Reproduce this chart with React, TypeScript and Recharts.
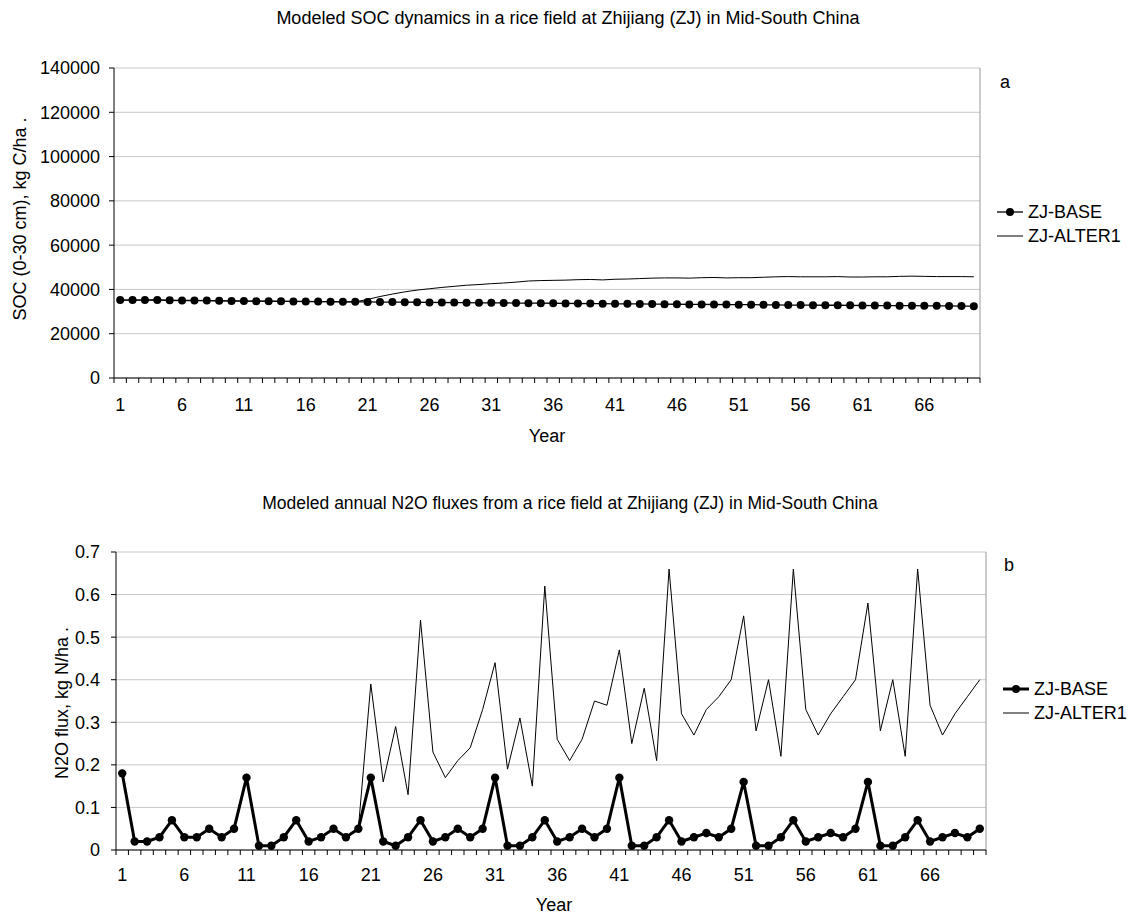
import {
  LineChart, Line, XAxis, YAxis, CartesianGrid, ReferenceLine
} from 'recharts';

const FONT = '"Liberation Sans", Arial, sans-serif';

// Years 1..70 (categories)
const years = Array.from({ length: 70 }, (_, i) => i + 1);
const labelYears = [1, 6, 11, 16, 21, 26, 31, 36, 41, 46, 51, 56, 61, 66];

// Panel a: SOC (0-30 cm), kg C/ha
const socBase = [
  35200, 35200, 35200, 35250, 35100, 35000, 35000, 34950, 34850, 34800,
  34750, 34700, 34700, 34650, 34600, 34550, 34500, 34450, 34400, 34400,
  34350, 34300, 34300, 34250, 34200, 34150, 34100, 34050, 34000, 33950,
  33950, 33900, 33850, 33800, 33800, 33750, 33700, 33650, 33600, 33550,
  33500, 33500, 33450, 33400, 33350, 33300, 33250, 33250, 33200, 33150,
  33100, 33100, 33050, 33000, 32950, 32950, 32900, 32850, 32850, 32800,
  32750, 32700, 32700, 32650, 32650, 32600, 32600, 32550, 32500, 32450,
];
const socAlter1 = [
  35200, 35200, 35200, 35250, 35100, 35000, 35000, 34950, 34850, 34800,
  34750, 34700, 34700, 34650, 34600, 34550, 34500, 34450, 34400, 34400,
  35500, 36800, 37900, 38900, 39700, 40300, 40900, 41400, 41900, 42200,
  42600, 42900, 43300, 43800, 44000, 44100, 44200, 44400, 44500, 44300,
  44600, 44700, 44900, 45100, 45200, 45200, 45100, 45300, 45400, 45200,
  45300, 45300, 45500, 45700, 45800, 45700, 45700, 45700, 45800, 45600,
  45600, 45700, 45700, 45900, 46000, 45900, 45800, 45800, 45800, 45700,
];
const socTicks = [0, 20000, 40000, 60000, 80000, 100000, 120000, 140000];

// Panel b: N2O flux, kg N/ha
const n2oBase = [
  0.18, 0.02, 0.02, 0.03, 0.07, 0.03, 0.03, 0.05, 0.03, 0.05,
  0.17, 0.01, 0.01, 0.03, 0.07, 0.02, 0.03, 0.05, 0.03, 0.05,
  0.17, 0.02, 0.01, 0.03, 0.07, 0.02, 0.03, 0.05, 0.03, 0.05,
  0.17, 0.01, 0.01, 0.03, 0.07, 0.02, 0.03, 0.05, 0.03, 0.05,
  0.17, 0.01, 0.01, 0.03, 0.07, 0.02, 0.03, 0.04, 0.03, 0.05,
  0.16, 0.01, 0.01, 0.03, 0.07, 0.02, 0.03, 0.04, 0.03, 0.05,
  0.16, 0.01, 0.01, 0.03, 0.07, 0.02, 0.03, 0.04, 0.03, 0.05,
];
const n2oAlter1 = [
  0.18, 0.02, 0.02, 0.03, 0.07, 0.03, 0.03, 0.05, 0.03, 0.05,
  0.17, 0.01, 0.01, 0.03, 0.07, 0.02, 0.03, 0.05, 0.03, 0.05,
  0.39, 0.16, 0.29, 0.13, 0.54, 0.23, 0.17, 0.21, 0.24, 0.33,
  0.44, 0.19, 0.31, 0.15, 0.62, 0.26, 0.21, 0.26, 0.35, 0.34,
  0.47, 0.25, 0.38, 0.21, 0.66, 0.32, 0.27, 0.33, 0.36, 0.40,
  0.55, 0.28, 0.40, 0.22, 0.66, 0.33, 0.27, 0.32, 0.36, 0.40,
  0.58, 0.28, 0.40, 0.22, 0.66, 0.34, 0.27, 0.32, 0.36, 0.40,
];
const n2oTicks = [0, 0.1, 0.2, 0.3, 0.4, 0.5, 0.6, 0.7];

const socData = years.map((year, i) => ({ year, base: socBase[i], alter: socAlter1[i] }));
const n2oData = years.map((year, i) => ({ year, base: n2oBase[i], alter: n2oAlter1[i] }));

// tick list: category boundaries (tick marks) + label years (text)
const xTicks = [...years.map((y) => y - 0.5), 70.5, ...labelYears];

function YearTick(props: any) {
  const { x, y, payload, labelDy } = props;
  const v = payload.value;
  if (Number.isInteger(v)) {
    return (
      <text x={x} y={y + labelDy} textAnchor="middle" fontSize={18} fontFamily={FONT} fill="#000">
        {v}
      </text>
    );
  }
  return <line x1={x} x2={x} y1={y} y2={y + 5} stroke="#000" strokeWidth={1} />;
}

function SeriesLegend({ left, top, baseWidth }: { left: number; top: number; baseWidth: number }) {
  return (
    <div style={{ position: 'absolute', left, top, fontFamily: FONT, fontSize: 18, color: '#000', whiteSpace: 'nowrap' }}>
      <div style={{ display: 'flex', alignItems: 'center', height: 24 }}>
        <svg width={28} height={12} style={{ marginRight: 3 }}>
          <line x1={0} x2={26} y1={6} y2={6} stroke="#000" strokeWidth={baseWidth} />
          <circle cx={13} cy={6} r={4} fill="#000" />
        </svg>
        <span>ZJ-BASE</span>
      </div>
      <div style={{ display: 'flex', alignItems: 'center', height: 24 }}>
        <svg width={28} height={12} style={{ marginRight: 3 }}>
          <line x1={0} x2={26} y1={6} y2={6} stroke="#000" strokeWidth={1} />
        </svg>
        <span>ZJ-ALTER1</span>
      </div>
    </div>
  );
}

const textStyle = { position: 'absolute' as const, fontFamily: FONT, fontSize: 18, color: '#000', whiteSpace: 'nowrap' as const };

export default function App() {
  return (
    <div style={{ position: 'absolute', left: 0, top: 0, width: 1132, height: 918, background: '#fff' }}>
      {/* Panel a */}
      <div style={{ position: 'absolute', left: 0, top: 0 }}>
        <LineChart width={1132} height={460} data={socData} margin={{ top: 68, right: 152, bottom: 42, left: 0 }}>
          <CartesianGrid vertical={false} stroke="#c8c8c8" />
          <XAxis
            type="number" dataKey="year" domain={[0.5, 70.5]} ticks={xTicks} interval={0}
            tick={<YearTick labelDy={33} />} tickLine={false} tickSize={0} tickMargin={0}
            axisLine={{ stroke: '#000' }} height={40}
          />
          <YAxis
            domain={[0, 140000]} ticks={socTicks} width={114} tickSize={5} tickMargin={9}
            tick={{ fontSize: 18, fontFamily: FONT, fill: '#000' }}
            axisLine={{ stroke: '#000' }} tickLine={{ stroke: '#000' }}
          />
          <ReferenceLine x={70.5} stroke="#999" />
          <Line type="linear" dataKey="alter" stroke="#000" strokeWidth={1} dot={false} activeDot={false} isAnimationActive={false} />
          <Line type="linear" dataKey="base" stroke="#000" strokeWidth={1.3}
            dot={{ r: 4, fill: '#000', stroke: '#000', strokeWidth: 0 }} activeDot={false} isAnimationActive={false} />
        </LineChart>
      </div>
      <div style={{ ...textStyle, left: 0, width: 1136, top: 8, textAlign: 'center' }}>
        Modeled SOC dynamics in a rice field at Zhijiang (ZJ) in Mid-South China
      </div>
      <div style={{ ...textStyle, left: 1000, top: 72 }}>a</div>
      <div style={{ ...textStyle, left: 20, top: 219, transform: 'translate(-50%, -50%) rotate(-90deg)' }}>
        SOC (0-30 cm), kg C/ha .
      </div>
      <div style={{ ...textStyle, left: 547, top: 436, transform: 'translate(-50%, -50%)' }}>Year</div>
      <SeriesLegend left={997} top={200} baseWidth={1.3} />

      {/* Panel b */}
      <div style={{ position: 'absolute', left: 0, top: 470 }}>
        <LineChart width={1132} height={448} data={n2oData} margin={{ top: 82, right: 146, bottom: 28, left: 0 }}>
          <CartesianGrid vertical={false} stroke="#c8c8c8" />
          <XAxis
            type="number" dataKey="year" domain={[0.5, 70.5]} ticks={xTicks} interval={0}
            tick={<YearTick labelDy={31} />} tickLine={false} tickSize={0} tickMargin={0}
            axisLine={{ stroke: '#000' }} height={40}
          />
          <YAxis
            domain={[0, 0.7]} ticks={n2oTicks} width={116} tickSize={5} tickMargin={11}
            tickFormatter={(v: number) => String(v)}
            tick={{ fontSize: 18, fontFamily: FONT, fill: '#000' }}
            axisLine={{ stroke: '#000' }} tickLine={{ stroke: '#000' }}
          />
          <ReferenceLine x={70.5} stroke="#999" />
          <Line type="linear" dataKey="alter" stroke="#000" strokeWidth={1} dot={false} activeDot={false} isAnimationActive={false} />
          <Line type="linear" dataKey="base" stroke="#000" strokeWidth={3}
            dot={{ r: 4.2, fill: '#000', stroke: '#000', strokeWidth: 0 }} activeDot={false} isAnimationActive={false} />
        </LineChart>
      </div>
      <div style={{ ...textStyle, left: 0, width: 1140, top: 493, fontSize: 17.5, textAlign: 'center' }}>
        Modeled annual N2O fluxes from a rice field at Zhijiang (ZJ) in Mid-South China
      </div>
      <div style={{ ...textStyle, left: 1004, top: 555 }}>b</div>
      <div style={{ ...textStyle, left: 62, top: 703, transform: 'translate(-50%, -50%) rotate(-90deg)' }}>
        N2O flux, kg N/ha .
      </div>
      <div style={{ ...textStyle, left: 554, top: 905, transform: 'translate(-50%, -50%)' }}>Year</div>
      <SeriesLegend left={1003} top={677} baseWidth={3} />
    </div>
  );
}
